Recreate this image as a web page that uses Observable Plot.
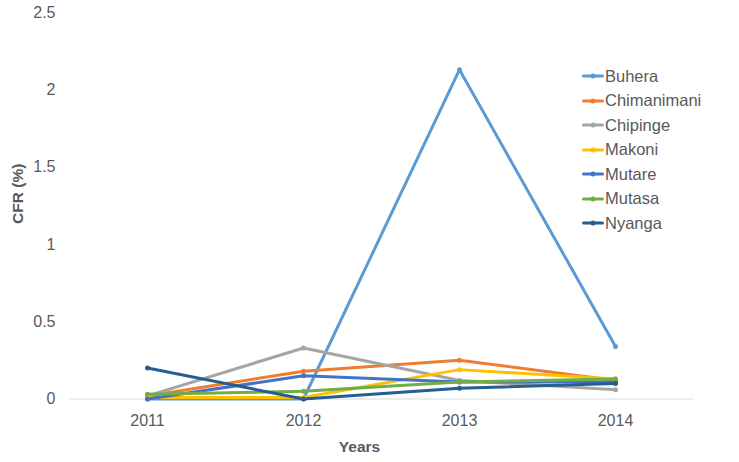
<!DOCTYPE html>
<html><head><meta charset="utf-8">
<script src="https://cdn.jsdelivr.net/npm/d3@7"></script>
<script src="https://cdn.jsdelivr.net/npm/@observablehq/plot@0.6"></script>
<style>
body{margin:0;background:#fff;font-family:"Liberation Sans",Arial,sans-serif;}
#wrap{position:relative;width:739px;height:462px;}
#legend{position:absolute;left:582px;top:64px;font-size:16.5px;color:#595959;}
#legend .it{display:flex;align-items:center;height:24.5px;}
#legend svg{margin-right:1px;}
</style></head>
<body><div id="wrap"><div id="legend"></div></div>
<script>
const years = ["2011","2012","2013","2014"];
const districts = ["Buhera","Chimanimani","Chipinge","Makoni","Mutare","Mutasa","Nyanga"];
const colors = ["#5B9BD5","#ED7D31","#A5A5A5","#FFC000","#4472C4","#70AD47","#255E91"];
const buhera = [0, 0, 2.13, 0.34];
const chimanimani = [0.02, 0.18, 0.25, 0.12];
const chipinge = [0.02, 0.33, 0.12, 0.06];
const makoni = [0.01, 0.01, 0.19, 0.13];
const mutare = [0, 0.15, 0.11, 0.11];
const mutasa = [0.03, 0.05, 0.11, 0.13];
const nyanga = [0.2, 0, 0.07, 0.10];
const yTicks = [0, 0.5, 1, 1.5, 2, 2.5];
const yTickLabels = ["0","0.5","1","1.5","2","2.5"];

const series = [buhera, chimanimani, chipinge, makoni, mutare, mutasa, nyanga];
const data = [];
districts.forEach((d, i) => years.forEach((y, j) => data.push({district: d, year: y, value: series[i][j]})));

const chart = Plot.plot({
  width: 739, height: 462,
  marginLeft: 69, marginRight: 46, marginTop: 12, marginBottom: 63.5,
  style: {fontFamily: '"Liberation Sans", Arial, sans-serif', fontSize: "16px", color: "#595959", background: "#fff"},
  x: {type: "point", domain: years, padding: 0.5},
  y: {domain: [0, 2.5]},
  color: {domain: districts, range: colors},
  marks: [
    Plot.ruleY([0], {stroke: "#d9d9d9", strokeWidth: 1}),
    Plot.axisY({ticks: yTicks, tickFormat: (d) => yTickLabels[yTicks.indexOf(d)], tickSize: 0, tickPadding: 14, label: null, fontSize: 16, fill: "#595959"}),
    Plot.axisX({tickSize: 0, tickPadding: 16, label: null, fontSize: 16, fill: "#595959"}),
    Plot.line(data, {x: "year", y: "value", z: "district", stroke: "district", strokeWidth: 3, strokeLinejoin: "round", strokeLinecap: "round"}),
    Plot.dot(data, {x: "year", y: "value", fill: "district", r: 2.5, stroke: null}),
    Plot.text(["CFR (%)"], {frameAnchor: "left", textAnchor: "middle", lineAnchor: "middle", dx: -51.5, dy: -12, rotate: -90, fontWeight: "bold", fontSize: 15.5, fill: "#595959"}),
    Plot.text(["Years"], {frameAnchor: "bottom", textAnchor: "middle", lineAnchor: "middle", dx: -22, dy: 48, fontWeight: "bold", fontSize: 15.5, fill: "#595959"})
  ]
});
document.getElementById("wrap").prepend(chart);

const leg = document.getElementById("legend");
districts.forEach((d, i) => {
  const it = document.createElement("div");
  it.className = "it";
  it.innerHTML = `<svg width="22" height="8"><line x1="1.5" y1="4" x2="20.5" y2="4" stroke="${colors[i]}" stroke-width="3" stroke-linecap="round"/><circle cx="11" cy="4" r="2.5" fill="${colors[i]}"/></svg><span>${d}</span>`;
  leg.appendChild(it);
});
</script></body></html>
